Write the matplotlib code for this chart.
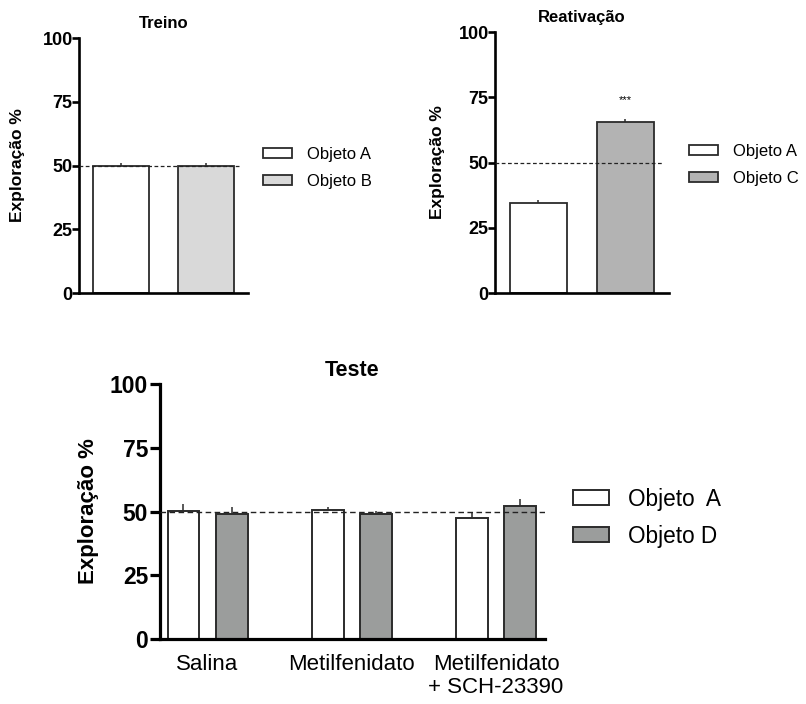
import matplotlib
matplotlib.use('Agg')
import matplotlib.pyplot as plt
from matplotlib.patches import Patch
import numpy as np

plt.rcParams['font.family'] = ['Liberation Sans', 'DejaVu Sans']

# Treino
treino_labels = ['Objeto A', 'Objeto B']
treino_vals = [50.0, 50.0]
treino_err = [1.0, 1.0]
treino_cols = ['white', '#d9d9d9']

# Reativacao
reat_labels = ['Objeto A', 'Objeto C']
reat_vals = [34.5, 65.4]
reat_err = [1.1, 1.3]
reat_cols = ['white', '#b3b3b3']

# Teste
teste_groups = ['Salina', 'Metilfenidato', 'Metilfenidato\n+ SCH-23390']
teste_a = [50.4, 50.5, 47.3]
teste_a_err = [2.5, 1.3, 2.7]
teste_d = [49.1, 49.1, 52.3]
teste_d_err = [2.5, 1.2, 2.6]
teste_labels = ['Objeto  A', 'Objeto D']
teste_cols = ['white', '#9b9d9c']

yticks = [0, 25, 50, 75, 100]
edge = '#2b2b2b'

fig = plt.figure(figsize=(8.06, 7.04), dpi=100)


def style_axis(ax, lw, ticklen, tsize, pad):
	for s in ['top', 'right']:
		ax.spines[s].set_visible(False)
	ax.spines['left'].set_linewidth(lw)
	ax.spines['bottom'].set_linewidth(lw)
	ax.set_ylim(0, 100)
	ax.set_yticks(yticks)
	ax.tick_params(axis='y', length=ticklen, width=lw, labelsize=tsize, pad=pad)
	ax.tick_params(axis='x', length=0)
	for t in ax.get_yticklabels():
		t.set_fontweight('bold')


def small_panel(rect, labels, vals, err, cols, title, ylx, dash_end, leg_xy):
	ax = fig.add_axes(rect)
	x = np.arange(len(vals))
	ax.bar(x, vals, width=0.66, color=cols, edgecolor=edge, linewidth=1.3, zorder=2)
	ax.errorbar(x, vals, yerr=[np.zeros(len(err)), err], fmt='none', ecolor=edge,
		elinewidth=1.1, capsize=0, zorder=3)
	ax.plot([-0.5, dash_end], [50, 50], ls='--', color='#222222', lw=0.9, dashes=(3, 2), zorder=4)
	ax.set_xlim(-0.5, 1.5)
	ax.set_xticks([])
	style_axis(ax, 1.9, 5, 13, -0.5)
	ax.set_ylabel('Exploração %', fontsize=12.5, fontweight='bold')
	ax.yaxis.set_label_coords(ylx, 0.5)
	ax.set_title(title, fontsize=12, fontweight='bold', pad=7)
	handles = [Patch(facecolor=c, edgecolor=edge, linewidth=1.3) for c in cols]
	fig.legend(handles, labels, loc='upper left', bbox_to_anchor=leg_xy, frameon=False,
		fontsize=12, handlelength=1.74, handleheight=0.6, handletextpad=0.9,
		labelspacing=0.72, borderpad=0, borderaxespad=0)
	return ax


ax1 = small_panel([0.098, 0.5838, 0.2097, 0.3622], treino_labels, treino_vals, treino_err,
	treino_cols, 'Treino', -0.32, 1.42, (263 / 806, 1 - 147 / 704))
ax2 = small_panel([0.6141, 0.5838, 0.2159, 0.3707], reat_labels, reat_vals, reat_err,
	reat_cols, 'Reativação', -0.287, 1.42, (689 / 806, 1 - 144 / 704))
ax2.text(1, 72, '***', ha='center', va='bottom', fontsize=8)

# Teste
ax3 = fig.add_axes([0.1985, 0.0923, 0.4777, 0.3622])
g = np.arange(len(teste_groups))
off = 0.167
w = 0.22
ax3.bar(g - off, teste_a, width=w, color=teste_cols[0], edgecolor=edge, linewidth=1.4, zorder=2)
ax3.bar(g + off, teste_d, width=w, color=teste_cols[1], edgecolor=edge, linewidth=1.4, zorder=2)
ax3.errorbar(g - off, teste_a, yerr=[np.zeros(3), teste_a_err], fmt='none', ecolor=edge,
	elinewidth=1.1, capsize=0, zorder=3)
ax3.errorbar(g + off, teste_d, yerr=[np.zeros(3), teste_d_err], fmt='none', ecolor=edge,
	elinewidth=1.1, capsize=0, zorder=3)
ax3.set_xlim(-0.33, 2.34)
ax3.plot([-0.33, 2.34], [50, 50], ls='--', color='#222222', lw=1.0, dashes=(4, 2.5), zorder=4)
ax3.set_xticks(g)
ax3.set_xticklabels(teste_groups, fontsize=16, linespacing=1.1)
style_axis(ax3, 2.3, 7, 16.5, 1.5)
ax3.tick_params(axis='x', pad=11)
ax3.set_ylabel('Exploração %', fontsize=16, fontweight='bold')
ax3.yaxis.set_label_coords(-0.158, 0.5)
ax3.set_title('Teste', fontsize=15.5, fontweight='bold', pad=6)
handles = [Patch(facecolor=c, edgecolor=edge, linewidth=1.4) for c in teste_cols]
fig.legend(handles, teste_labels, loc='upper left', bbox_to_anchor=(573 / 806, 1 - 487.5 / 704),
	frameon=False, fontsize=16.3, handlelength=1.6, handleheight=0.62, handletextpad=0.84,
	labelspacing=0.63, borderpad=0, borderaxespad=0)

fig.savefig('out.png', dpi=100)
